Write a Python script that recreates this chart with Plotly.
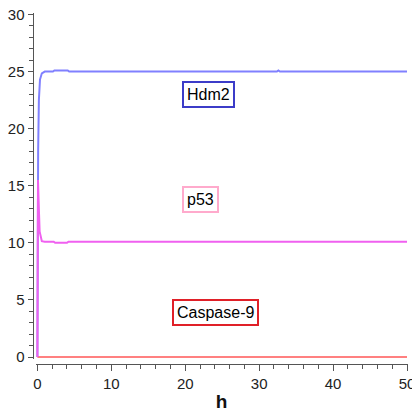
import plotly.graph_objects as go

# Time (h) and concentration traces
hdm2_t = [0, 0.05, 0.1, 0.2, 0.35, 0.6, 1.0, 2.1, 2.3, 4.1, 4.3, 32.4, 32.6, 32.8, 50]
hdm2_v = [0, 12.0, 18.0, 22.5, 24.3, 24.85, 25.0, 25.0, 25.1, 25.1, 25.0, 25.0, 25.1, 25.0, 25.0]

p53_t = [0, 0.08, 0.15, 0.3, 0.45, 0.6, 1.0, 2.2, 2.4, 4.0, 4.2, 50]
p53_v = [0, 15.5, 14.0, 11.0, 10.4, 10.15, 10.1, 10.1, 10.0, 10.0, 10.1, 10.1]

casp9_t = [0, 50]
casp9_v = [0, 0]

x_ticks = [0, 10, 20, 30, 40, 50]
y_ticks = [0, 5, 10, 15, 20, 25, 30]

W = H = 412
TICK_FONT = dict(family="Liberation Sans, Arial, sans-serif", size=15, color="#222222")
BOX_FONT = dict(family="Liberation Sans, Arial, sans-serif", size=16, color="#000000")

fig = go.Figure()
fig.add_trace(go.Scatter(x=casp9_t, y=casp9_v, mode="lines",
                         line=dict(color="#ff8080", width=2), name="Caspase-9"))
fig.add_trace(go.Scatter(x=hdm2_t, y=hdm2_v, mode="lines",
                         line=dict(color="#8080ff", width=2), name="Hdm2"))
fig.add_trace(go.Scatter(x=p53_t, y=p53_v, mode="lines",
                         line=dict(color="#f060f0", width=2), name="p53"))

# Detached axes: each axis line sits just outside the plotting area
fig.update_layout(
    width=W, height=H,
    margin=dict(l=0, r=0, t=0, b=0, autoexpand=False),
    paper_bgcolor="white", plot_bgcolor="white",
    showlegend=False,
    xaxis=dict(
        domain=[35.55 / W, 407.74 / W],
        range=[-0.25, 50.1],
        anchor="free", position=(H - 364) / H,
        automargin=False,
        showgrid=False, zeroline=False,
        showline=True, linecolor="#555555", linewidth=1,
        tickmode="array", tickvals=x_ticks,
        ticks="outside", ticklen=6, tickcolor="#555555",
        minor=dict(dtick=2, ticks="outside", ticklen=4, tickcolor="#555555"),
        tickfont=TICK_FONT, ticklabeloverflow="allow",
        title=dict(text="<b>h</b>", font=dict(family="Liberation Sans, Arial, sans-serif",
                                             size=19, color="#111111"), standoff=7),
    ),
    yaxis=dict(
        domain=[(H - 359.28) / H, (H - 13.36) / H],
        range=[-0.2, 30.1],
        anchor="free", position=32.5 / W,
        automargin=False,
        showgrid=False, zeroline=False,
        showline=True, linecolor="#555555", linewidth=1,
        tickmode="array", tickvals=y_ticks,
        ticks="outside", ticklen=5, tickcolor="#555555",
        minor=dict(dtick=1, ticks="outside", ticklen=4, tickcolor="#555555"),
        tickfont=TICK_FONT,
    ),
)

boxes = [
    ("Hdm2", 23.12, 23.0, "#3c3cc8"),
    ("p53", 22.0, 13.8, "#ffaacc"),
    ("Caspase-9", 24.07, 3.9, "#e02028"),
]
for text, bx, by, col in boxes:
    fig.add_annotation(x=bx, y=by, xref="x", yref="y", text=text, showarrow=False,
                       font=BOX_FONT, bgcolor="white", bordercolor=col,
                       borderwidth=2, borderpad=3, xanchor="center", yanchor="middle")

fig.write_html("out.html")
